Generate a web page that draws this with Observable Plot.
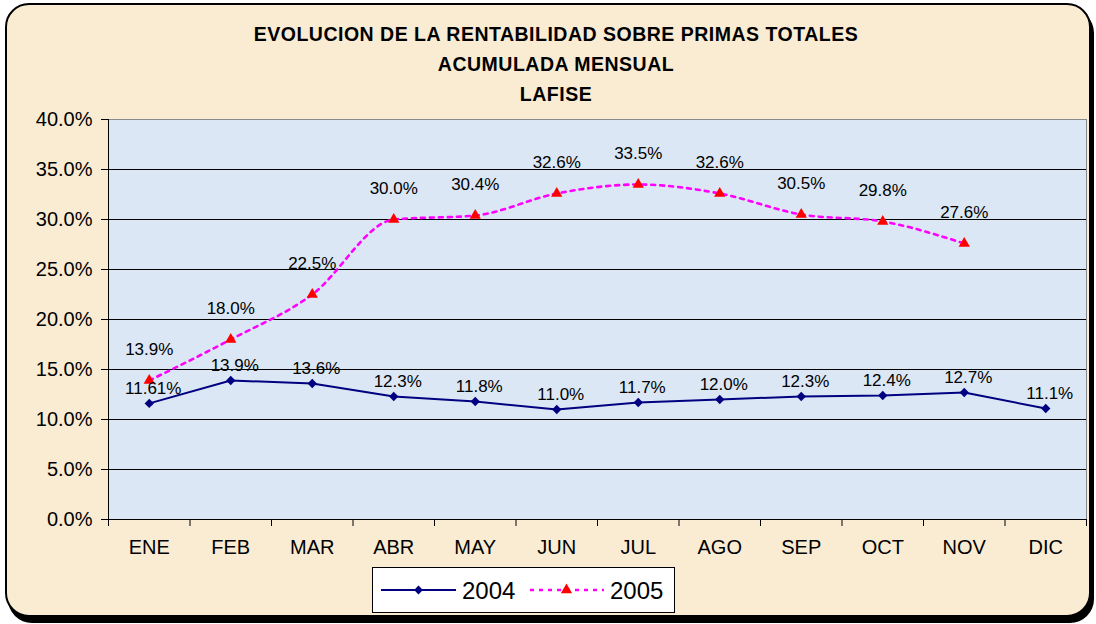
<!DOCTYPE html>
<html>
<head>
<meta charset="utf-8">
<script src="https://cdn.jsdelivr.net/npm/d3@7"></script>
<script src="https://cdn.jsdelivr.net/npm/@observablehq/plot@0.6"></script>
<style>
  html, body { margin: 0; padding: 0; background: #ffffff; }
  #wrap { position: relative; width: 1096px; height: 624px; overflow: hidden; font-family: "Liberation Sans", Arial, sans-serif; }
  #card { position: absolute; left: 5px; top: 3px; width: 1082px; height: 610px; border: 2px solid #000; border-radius: 24px;
          background: #f9ecd3; box-shadow: 3px 6px 0 #000; }
  #chart { position: absolute; left: 0; top: 0; }
  #title { position: absolute; left: 0; top: 19px; width: 1112px; text-align: center; font-weight: bold; font-size: 19.5px;
           line-height: 30px; letter-spacing: 0.5px; color: #000; }
  #legend { position: absolute; left: 372px; top: 567px; width: 301px; height: 44px; background: #fff; border: 1px solid #000; }
  #legend svg { position: absolute; left: 0; top: 0; }
</style>
</head>
<body>
<div id="wrap">
  <div id="card"></div>
  <div id="chart"></div>
  <div id="title">EVOLUCION DE LA RENTABILIDAD SOBRE PRIMAS TOTALES<br>ACUMULADA MENSUAL<br>LAFISE</div>
  <div id="legend"></div>
</div>
<script>
const months = ["ENE","FEB","MAR","ABR","MAY","JUN","JUL","AGO","SEP","OCT","NOV","DIC"];
const series2004 = [11.61, 13.9, 13.6, 12.3, 11.8, 11.0, 11.7, 12.0, 12.3, 12.4, 12.7, 11.1];
const labels2004 = ["11.61%","13.9%","13.6%","12.3%","11.8%","11.0%","11.7%","12.0%","12.3%","12.4%","12.7%","11.1%"];
const series2005 = [13.9, 18.0, 22.5, 30.0, 30.4, 32.6, 33.5, 32.6, 30.5, 29.8, 27.6];
const labels2005 = ["13.9%","18.0%","22.5%","30.0%","30.4%","32.6%","33.5%","32.6%","30.5%","29.8%","27.6%"];
const yTicks = [0, 5, 10, 15, 20, 25, 30, 35, 40];

const d2004 = series2004.map((v, i) => ({x: i + 0.5, v, label: labels2004[i]}));
const d2005 = series2005.map((v, i) => ({x: i + 0.5, v, label: labels2005[i]}));

const C04 = "#000080", C05 = "#ff00ff", TRI = "#ff0000";

const chart = Plot.plot({
  width: 1096,
  height: 624,
  marginLeft: 108,
  marginRight: 10,
  marginTop: 119,
  marginBottom: 105,
  style: {background: "transparent", fontFamily: "'Liberation Sans', Arial, sans-serif", color: "#000"},
  x: {type: "linear", domain: [0, 12], axis: null},
  y: {domain: [0, 40], axis: null},
  marks: [
    Plot.frame({fill: "#dbe7f5", stroke: "#8a8a8a"}),
    Plot.ruleY(yTicks.filter(t => t > 0 && t < 40), {stroke: "#000", strokeWidth: 1}),
    Plot.ruleY([0], {stroke: "#000", strokeWidth: 1}),
    Plot.ruleX([0], {stroke: "#000", strokeWidth: 1}),
    Plot.axisY({ticks: yTicks, label: null, tickSize: 7, tickPadding: 9, fontSize: 20, tickFormat: d => d.toFixed(1) + "%"}),
    Plot.axisX({ticks: d3.range(13), label: null, tickSize: 7, tickFormat: () => ""}),
    Plot.axisX({ticks: months.map((m, i) => i + 0.5), label: null, tickSize: 0, tickPadding: 20, fontSize: 20,
                tickFormat: d => months[Math.floor(d)]}),
    Plot.line(d2005, {x: "x", y: "v", stroke: C05, strokeWidth: 2.6, strokeDasharray: "4,5", curve: "monotone-x"}),
    Plot.line(d2004, {x: "x", y: "v", stroke: C04, strokeWidth: 2}),
    Plot.dot(d2004, {x: "x", y: "v", symbol: "diamond2", r: 4.2, fill: C04, stroke: "none"}),
    Plot.dot(d2005, {x: "x", y: "v", symbol: "triangle", r: 4.2, fill: TRI, stroke: "none"}),
    Plot.text(d2004, {x: "x", y: "v", text: "label", dx: 4, dy: -15, fontSize: 17, fill: "#000"}),
    Plot.text(d2005, {x: "x", y: "v", text: "label", dy: -31, fontSize: 17, fill: "#000"})
  ]
});
document.getElementById("chart").appendChild(chart);

// legend
const lg = d3.select("#legend").append("svg").attr("width", 301).attr("height", 44);
const cy = 22;
lg.append("line").attr("x1", 8).attr("x2", 83).attr("y1", cy).attr("y2", cy).attr("stroke", C04).attr("stroke-width", 2);
lg.append("path").attr("d", d3.symbol(d3.symbolDiamond2, 50)()).attr("transform", `translate(45.5,${cy})`).attr("fill", C04);
lg.append("text").attr("x", 89).attr("y", cy).attr("dy", "0.36em").attr("font-size", 24).text("2004");
lg.append("line").attr("x1", 157).attr("x2", 231).attr("y1", cy).attr("y2", cy).attr("stroke", C05).attr("stroke-width", 2.6).attr("stroke-dasharray", "4,5");
lg.append("path").attr("d", d3.symbol(d3.symbolTriangle, 55)()).attr("transform", `translate(193.5,${cy})`).attr("fill", TRI);
lg.append("text").attr("x", 237).attr("y", cy).attr("dy", "0.36em").attr("font-size", 24).text("2005");
</script>
</body>
</html>
